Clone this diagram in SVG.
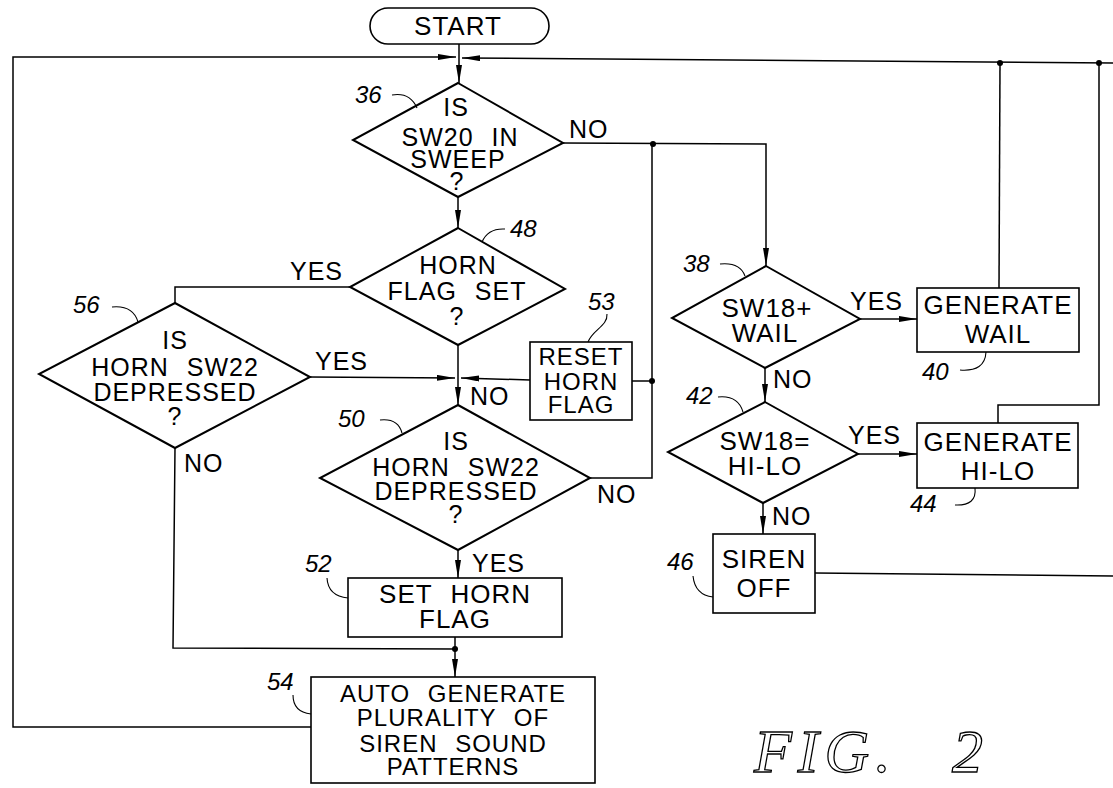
<svg xmlns="http://www.w3.org/2000/svg" width="1113" height="788" viewBox="0 0 1113 788">
<style>
.shape{fill:#fff;stroke:#000;stroke-width:1.6}
.dia{fill:#fff;stroke:#000;stroke-width:2}
.ln{fill:none;stroke:#000;stroke-width:1.5}
.ld{fill:none;stroke:#000;stroke-width:1.1}
.t{font-family:"Liberation Sans",Arial,sans-serif;font-size:26px;letter-spacing:1px;word-spacing:10px;text-anchor:middle;fill:#000}
.d{font-size:25px}
.s{font-size:24px}
.lb{font-family:"Liberation Sans",Arial,sans-serif;font-size:25px;letter-spacing:1px;fill:#000}
.num{font-family:"Liberation Sans",Arial,sans-serif;font-style:italic;font-size:24px;fill:#000}
.fig{font-family:"Liberation Serif","Times New Roman",serif;font-style:italic;font-size:62px;fill:#fff;stroke:#000;stroke-width:1.3;letter-spacing:6px}
</style>
<defs>
<marker id="ah" viewBox="0 0 18 6" refX="18" refY="3" markerWidth="18" markerHeight="6" markerUnits="userSpaceOnUse" orient="auto">
<path d="M0,0 L18,3 L0,6 Z" fill="#000"/>
</marker>
</defs>

<g id="connectors">
<path class="ln" d="M459,44 L459,83" marker-end="url(#ah)"/>
<path class="ln" d="M311,727 L13,727 L13,57 L456,57" marker-end="url(#ah)"/>
<path class="ln" d="M1113,63 L462,58" marker-end="url(#ah)"/>
<circle cx="1000" cy="63" r="3"/>
<circle cx="1099" cy="63" r="3"/>
<path class="ln" d="M999,288 L1000,63"/>
<path class="ln" d="M998,423 L998,405 L1099,405 L1099,63"/>
<path class="ln" d="M815,573 L1113,576"/>
<path class="ln" d="M563,143 L766,144 L766,266" marker-end="url(#ah)"/>
<circle cx="653" cy="144" r="3"/>
<path class="ln" d="M652,144 L652,478 L590,478"/>
<circle cx="652" cy="381" r="3"/>
<path class="ln" d="M632,381 L652,381"/>
<path class="ln" d="M530,380 L461,378" marker-end="url(#ah)"/>
<path class="ln" d="M458,197 L458,228" marker-end="url(#ah)"/>
<path class="ln" d="M458,345 L458,405" marker-end="url(#ah)"/>
<path class="ln" d="M350,287 L175,287 L175,303"/>
<path class="ln" d="M310,377 L455,378" marker-end="url(#ah)"/>
<path class="ln" d="M175,448 L173,648 L455,649"/>
<circle cx="455" cy="649" r="3"/>
<path class="ln" d="M458,550 L458,578" marker-end="url(#ah)"/>
<path class="ln" d="M455,637 L455,677" marker-end="url(#ah)"/>
<path class="ln" d="M860,319 L917,319" marker-end="url(#ah)"/>
<path class="ln" d="M765,368 L765,402" marker-end="url(#ah)"/>
<path class="ln" d="M858,454 L917,454" marker-end="url(#ah)"/>
<path class="ln" d="M763,503 L763,534" marker-end="url(#ah)"/>
<text class="lb" x="569" y="138">NO</text>
<text class="lb" x="290" y="280">YES</text>
<text class="lb" x="315" y="370">YES</text>
<text class="lb" x="470" y="405">NO</text>
<text class="lb" x="597" y="503">NO</text>
<text class="lb" x="472" y="572">YES</text>
<text class="lb" x="184" y="472">NO</text>
<text class="lb" x="850" y="310">YES</text>
<text class="lb" x="773" y="388">NO</text>
<text class="lb" x="848" y="444">YES</text>
<text class="lb" x="772" y="525">NO</text>
</g>

<g id="start">
<rect class="shape" x="370" y="8" width="179" height="36" rx="18"/>
<text class="t" x="458" y="35">START</text>
</g>

<g id="n36">
<polygon class="dia" points="458,83 563,143 458,197 353,140"/>
<text class="t d" x="456" y="116">IS</text>
<text class="t d" x="460" y="146">SW20 IN</text>
<text class="t d" x="458" y="168">SWEEP</text>
<text class="t d" x="457" y="190">?</text>
<text class="num" x="355" y="103">36</text>
<path class="ld" d="M392,95 Q410,92 417,108"/>
</g>

<g id="n48">
<polygon class="dia" points="458,228 565,289 458,345 350,287"/>
<text class="t d" x="458" y="274">HORN</text>
<text class="t d" x="457" y="300">FLAG SET</text>
<text class="t d" x="457" y="325">?</text>
<text class="num" x="510" y="237">48</text>
<path class="ld" d="M505,229 Q488,228 482,242"/>
</g>

<g id="n56">
<polygon class="dia" points="175,303 310,377 175,448 39,374"/>
<text class="t d" x="175" y="349">IS</text>
<text class="t d" x="175" y="376">HORN SW22</text>
<text class="t d" x="175" y="401">DEPRESSED</text>
<text class="t d" x="175" y="425">?</text>
<text class="num" x="73" y="313">56</text>
<path class="ld" d="M112,307 Q133,305 138,322"/>
</g>

<g id="n53">
<rect class="shape" x="530" y="342" width="102" height="78"/>
<text class="t s" x="581" y="365">RESET</text>
<text class="t s" x="581" y="390">HORN</text>
<text class="t s" x="581" y="413">FLAG</text>
<text class="num" x="588" y="310">53</text>
<path class="ld" d="M607,314 C608,326 592,330 588,342"/>
</g>

<g id="n50">
<polygon class="dia" points="458,405 590,478 458,550 320,478"/>
<text class="t d" x="456" y="450">IS</text>
<text class="t d" x="456" y="476">HORN SW22</text>
<text class="t d" x="456" y="500">DEPRESSED</text>
<text class="t d" x="456" y="523">?</text>
<text class="num" x="338" y="427">50</text>
<path class="ld" d="M380,420 Q398,418 402,433"/>
</g>

<g id="n52">
<rect class="shape" x="348" y="578" width="214" height="59"/>
<text class="t" x="455" y="603">SET HORN</text>
<text class="t" x="455" y="628">FLAG</text>
<text class="num" x="305" y="572">52</text>
<path class="ld" d="M327,578 Q328,596 348,598"/>
</g>

<g id="n54">
<rect class="shape" x="311" y="677" width="284" height="106"/>
<text class="t s" x="453" y="702">AUTO GENERATE</text>
<text class="t s" x="453" y="726">PLURALITY OF</text>
<text class="t s" x="453" y="752">SIREN SOUND</text>
<text class="t s" x="453" y="775">PATTERNS</text>
<text class="num" x="267" y="690">54</text>
<path class="ld" d="M293,695 Q293,712 311,714"/>
</g>

<g id="n38">
<polygon class="dia" points="766,266 860,319 765,368 672,318"/>
<text class="t" x="767" y="317">SW18+</text>
<text class="t" x="765" y="342">WAIL</text>
<text class="num" x="683" y="272">38</text>
<path class="ld" d="M720,264 Q740,262 745,276"/>
</g>

<g id="n40">
<rect class="shape" x="917" y="288" width="162" height="64"/>
<text class="t" x="998" y="314">GENERATE</text>
<text class="t" x="998" y="343">WAIL</text>
<text class="num" x="922" y="380">40</text>
<path class="ld" d="M960,370 Q985,372 986,352"/>
</g>

<g id="n42">
<polygon class="dia" points="765,402 858,454 763,503 668,452"/>
<text class="t" x="765" y="450">SW18=</text>
<text class="t" x="765" y="475">HI-LO</text>
<text class="num" x="686" y="404">42</text>
<path class="ld" d="M718,397 Q738,395 743,412"/>
</g>

<g id="n44">
<rect class="shape" x="917" y="423" width="161" height="65"/>
<text class="t" x="998" y="451">GENERATE</text>
<text class="t" x="998" y="480">HI-LO</text>
<text class="num" x="910" y="512">44</text>
<path class="ld" d="M955,505 Q977,506 975,488"/>
</g>

<g id="n46">
<rect class="shape" x="713" y="534" width="102" height="79"/>
<text class="t" x="764" y="568">SIREN</text>
<text class="t" x="764" y="597">OFF</text>
<text class="num" x="667" y="570">46</text>
<path class="ld" d="M693,576 Q695,595 713,597"/>
</g>

<g id="caption">
<text class="fig" x="754" y="772">FIG.<tspan x="952">2</tspan></text>
</g>
</svg>
